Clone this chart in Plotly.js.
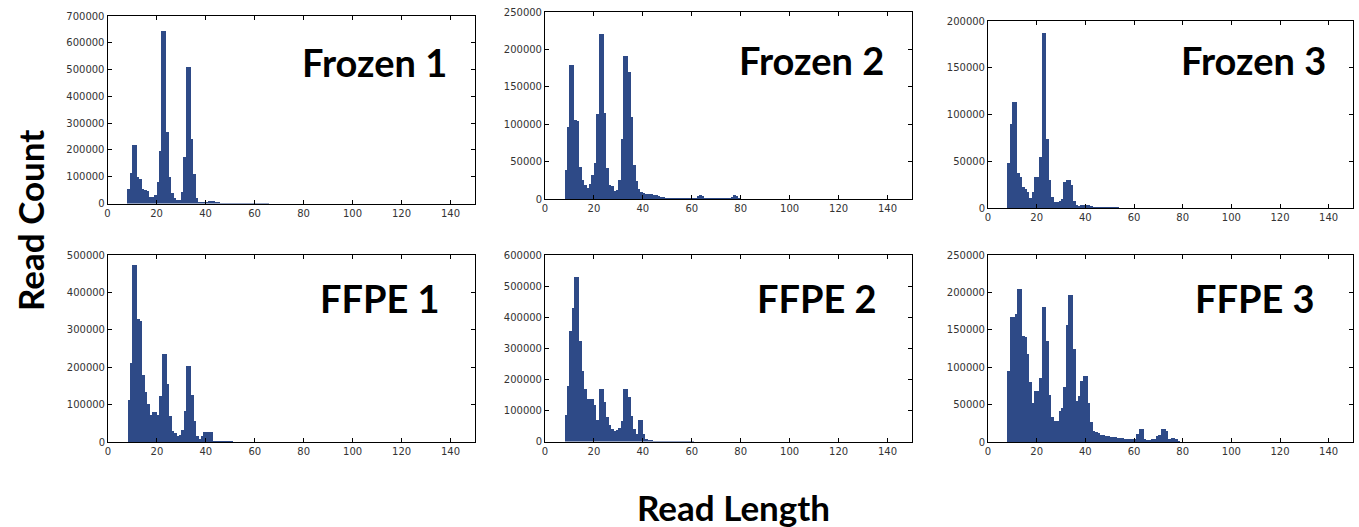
<!DOCTYPE html>
<html>
<head>
<meta charset="utf-8">
<script src="https://cdn.plot.ly/plotly-3.0.1.min.js"></script>
<style>
html,body{margin:0;padding:0;background:#fff;}
#chart{width:1359px;height:527px;}
</style>
</head>
<body>
<div id="chart"></div>
<script>
// Read length bins (left edge of each 1-nt bin)
const readLength = [8,9,10,11,12,13,14,15,16,17,18,19,20,21,22,23,24,25,26,27,28,29,30,31,32,33,34,35,36,37,38,39,40,41,42,43,44,45,46,47,48,49,50,51,52,53,54,55,56,57,58,59,60,61,62,63,64,65,66,67,68,69,70,71,72,73,74,75,76,77,78,79,80];

const frozen1 = [56000,115000,219000,219000,100000,91000,56000,52000,46000,25000,25000,31000,81000,196000,644000,644000,266000,100000,38000,19000,12000,12000,44000,175000,510000,510000,240000,110000,21000,7000,4000,4000,5000,9000,10000,9000,7000,4000,3000,2000,1500,1500,2000,2500,2500,1500,1000,1000,1000,1500,1500,1000,1000,1000,1500,1500,1000,500,0,0,0,0,0,0,0,0,0,0,0,0,0,0,0];
const frozen2 = [39000,96000,179000,179000,105000,104000,43000,26000,19000,15000,20000,32000,48000,113000,221000,221000,115000,41000,19000,17000,11000,12000,25000,80000,191000,191000,170000,110000,45000,24000,13000,10000,8000,7000,7000,7000,6000,5000,4000,3000,2500,2000,2000,2000,1500,1500,1500,1500,1500,1000,1500,1500,1500,2000,4000,5000,4000,2000,1500,1500,1500,1500,1500,1500,1500,1500,2000,2000,3000,5000,4000,1000,0];
const frozen3 = [48000,90000,113000,113000,37000,33000,22000,20000,17000,11000,17000,33000,33000,55000,187000,187000,74000,30000,12000,6000,6000,7000,10000,28000,30000,30000,25000,7000,3500,2000,3000,3000,3000,3000,2500,1500,1000,1000,800,800,800,800,1000,1500,1500,800,500,500,500,500,500,500,500,0,0,0,0,0,0,0,0,0,0,0,0,0,0,0,0,0,0,0,0];
const ffpe1 = [111000,212000,473000,473000,329000,323000,180000,134000,102000,73000,80000,80000,71000,122000,234000,234000,155000,69000,29000,24000,15000,18000,33000,82000,203000,203000,127000,55000,17000,8000,15000,26000,26000,26000,26000,4000,2500,2000,2000,1500,1500,1500,1500,1000,1000,1000,500,500,0,0,0,0,0,0,0,0,0,0,0,0,0,0,0,0,0,0,0,0,0,0,0,0,0];
const ffpe2 = [85000,177000,357000,428000,530000,530000,322000,227000,170000,138000,138000,138000,118000,70000,168000,168000,128000,80000,52000,40000,33000,38000,43000,66000,170000,170000,144000,82000,40000,25000,70000,70000,24000,9000,5000,3500,3000,2500,2500,2000,2000,1500,1500,1500,1000,1000,1000,800,500,500,500,500,500,0,0,0,0,0,0,0,0,0,0,0,0,0,0,0,0,0,0,0,0];
const ffpe3 = [95000,167000,167000,171000,205000,205000,142000,141000,117000,80000,52000,68000,68000,85000,181000,181000,135000,63000,34000,28000,28000,42000,45000,73000,156000,197000,197000,124000,55000,61000,81000,88000,88000,52000,27000,15000,13000,12000,9000,9000,8000,7500,7000,7000,6500,6000,5500,5000,4500,4000,3500,3500,4000,11000,18000,18000,3500,3000,3000,3500,4000,8000,10000,17000,17000,15000,4000,5000,5000,4000,1000,500,0];

const sampleNames = ["Frozen 1","Frozen 2","Frozen 3","FFPE 1","FFPE 2","FFPE 3"];
const sampleValues = [frozen1, frozen2, frozen3, ffpe1, ffpe2, ffpe3];
const yMax = [700000, 250000, 200000, 500000, 600000, 250000];
const yStep = [100000, 50000, 50000, 100000, 100000, 50000];
const xTicks = [0,20,40,60,80,100,120,140];

// Layout geometry (pixels)
const W = 1359, H = 527;
const boxes = [
  [107.5, 475, 16, 203.5],
  [545, 912, 12, 199],
  [988, 1353, 21, 208],
  [108, 475, 255, 442],
  [545, 912, 255, 441.5],
  [988, 1353, 255, 442]
];
const labelPos = [[374, 62],[811, 60],[1253, 60],[380, 298],[817, 298],[1255, 298]];

const barColor = 'rgb(46,74,135)';
const tickFont = {family: 'DejaVu Sans, sans-serif', size: 10, color: '#333'};

const data = [];
const layout = {
  width: W, height: H,
  margin: {l:0, r:0, t:0, b:0},
  paper_bgcolor: '#fff', plot_bgcolor: '#fff',
  showlegend: false,
  bargap: 0,
  annotations: [],
  font: {family: 'DejaVu Sans, sans-serif'}
};

sampleValues.forEach((vals, i) => {
  const n = i + 1;
  const xa = 'x' + (n === 1 ? '' : n), ya = 'y' + (n === 1 ? '' : n);
  data.push({
    type: 'bar', x: readLength, y: vals, width: 1, offset: 0,
    marker: {color: barColor, line: {width: 0}},
    xaxis: xa, yaxis: ya, hoverinfo: 'x+y'
  });
  const b = boxes[i];
  const xKey = 'xaxis' + (n === 1 ? '' : n), yKey = 'yaxis' + (n === 1 ? '' : n);
  layout[xKey] = {
    domain: [b[0]/W, b[1]/W], anchor: ya, range: [0, 150],
    tickvals: xTicks, ticktext: xTicks.map(String),
    ticks: 'inside', ticklen: 4, tickcolor: '#000', tickwidth: 1,
    showline: true, linecolor: '#000', linewidth: 1, mirror: 'ticks',
    showgrid: false, zeroline: false, tickfont: tickFont, fixedrange: true
  };
  layout[yKey] = {
    domain: [1 - b[3]/H, 1 - b[2]/H], anchor: xa, range: [0, yMax[i]],
    dtick: yStep[i], tick0: 0, tickformat: 'd',
    ticks: 'inside', ticklen: 4, tickcolor: '#000', tickwidth: 1,
    showline: true, linecolor: '#000', linewidth: 1, mirror: 'ticks',
    showgrid: false, zeroline: false, tickfont: tickFont, fixedrange: true
  };
  layout.annotations.push({
    text: '<b>' + sampleNames[i] + '</b>', xref: 'paper', yref: 'paper',
    x: labelPos[i][0]/W, y: 1 - labelPos[i][1]/H, xanchor: 'center', yanchor: 'middle',
    showarrow: false, font: {family: 'Lato, sans-serif', size: 38, color: '#000'}
  });
});

layout.annotations.push({
  text: '<b>Read Count</b>', xref: 'paper', yref: 'paper',
  x: 30/W, y: 1 - 221/H, xanchor: 'center', yanchor: 'middle', textangle: -90,
  showarrow: false, font: {family: 'Lato, sans-serif', size: 35, color: '#000'}
});
layout.annotations.push({
  text: '<b>Read Length</b>', xref: 'paper', yref: 'paper',
  x: 733/W, y: 1 - 507/H, xanchor: 'center', yanchor: 'middle',
  showarrow: false, font: {family: 'Lato, sans-serif', size: 35, color: '#000'}
});

Plotly.newPlot('chart', data, layout, {staticPlot: true, displayModeBar: false});
</script>
</body>
</html>
